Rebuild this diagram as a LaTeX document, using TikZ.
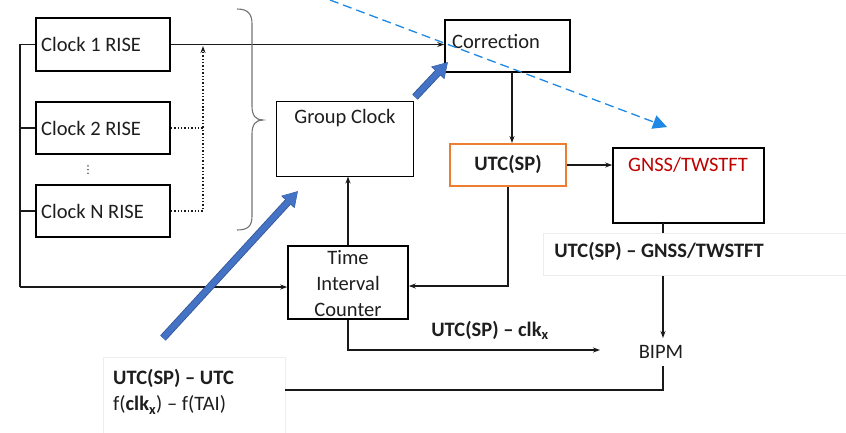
\documentclass[tikz,border=0pt]{standalone}
\usepackage{fontspec}
\setmainfont{Carlito}
\newfontfamily\dejavu{DejaVu Sans}
\usetikzlibrary{arrows.meta,calc}
\definecolor{txt}{HTML}{1E1E1E}
\definecolor{orng}{HTML}{ED7D31}
\definecolor{redt}{HTML}{C00000}
\definecolor{blk}{HTML}{4472C4}
\definecolor{blkd}{HTML}{2F528F}
\definecolor{dsh}{HTML}{1E88E5}
\tikzset{
  box/.style={draw=black, line width=1.6bp, inner sep=0pt, fill=white},
  lbl/.style={text=txt, font=\fontsize{20.5bp}{24bp}\selectfont, inner sep=0pt},
  blbl/.style={lbl, font=\fontsize{20.5bp}{24bp}\selectfont\bfseries},
  conn/.style={line width=1.4bp, draw=black!90},
  tip/.style={-{Stealth[length=7bp,width=5bp]}},
  bluearrow/.style={line width=6bp, draw=blk, -{Triangle[length=14bp,width=16bp]}},
}
\begin{document}
\begin{tikzpicture}[x=1bp,y=-1bp]
\useasboundingbox (0,0) rectangle (846,432);
% faint label boxes
\node[draw=black!7, fill=white, minimum width=182bp, minimum height=80bp, inner sep=0pt, anchor=north west] (bl) at (103,357) {};
% clocks
\node[box, minimum width=134bp, minimum height=53bp] (c1) at (103,44.5) {};
\node[box, minimum width=134bp, minimum height=52bp] (c2) at (103,128) {};
\node[box, minimum width=134bp, minimum height=52bp] (cN) at (103,211) {};
\node[lbl, anchor=west] (t1) at (41,44.5) {Clock 1 RISE};
\node[lbl, anchor=west] (t2) at (41,128) {Clock 2 RISE};
\node[lbl, anchor=west] (tN) at (41,211) {Clock N RISE};
\node[inner sep=0pt, text=txt, font=\dejavu\fontsize{11bp}{12bp}\selectfont] (vd) at (88,170) {⋮};
% other boxes
\node[box, minimum width=125bp, minimum height=52bp] (corr) at (507.5,46) {};
\node[lbl, anchor=west] (tcorr) at (452,41) {Correction};
\node[box, line width=1bp, minimum width=137bp, minimum height=75bp] (gc) at (344.5,138.5) {};
\node[lbl] (tgc) at (345,118) {Group Clock};
\node[box, draw=orng, line width=2bp, minimum width=116bp, minimum height=42bp] (utc) at (508,165) {};
\node[blbl] (tutc) at (508,164) {UTC(SP)};
\node[box, minimum width=151bp, minimum height=75bp] (gnss) at (688.5,185.5) {};
\node[lbl, text=redt] (tgnss) at (688,165) {GNSS/TWSTFT};
\node[box, minimum width=120bp, minimum height=73bp] (tic) at (348,282.5) {};
\node[lbl, align=center, font=\fontsize{20.5bp}{26bp}\selectfont] (ttic) at (348,284) {Time\\Interval\\Counter};
\node[lbl] (bipm) at (661,352) {BIPM};
% connectors
\draw[conn] (c1.west) -- (20,44.5) -- (20,287);
\draw[conn] (c2.west) -- (20,128);
\draw[conn] (cN.west) -- (20,211);
\draw[conn, tip] (20,287) -- (tic.west |- 0,287);
\draw[conn, tip] (c1.east) -- (corr.west |- c1.east);
\draw[conn, dotted, line width=1.5bp] (c2.east) -- (203,128);
\draw[conn, dotted, line width=1.5bp, tip] (cN.east) -- (203,211) -- (203,46);
\draw[conn, tip] (512,72) -- (utc.north -| 512,0);
\draw[conn, tip] (utc.east) -- (gnss.west |- utc.east);
\draw[conn, tip] (utc.south) -- (508,286) -- (tic.east |- 0,286);
\draw[conn, tip] (tic.north) -- (gc.south -| tic.north);
\draw[conn, tip] (tic.south) -- (348,350) -- (600,350);
\draw[conn, tip] (663,223) -- (663,338);
\draw[conn] (bl.east |- 0,390) -- (663,390) -- (663,366);
% labels with backgrounds
\node[draw=black!7, fill=white, minimum width=303bp, minimum height=42bp, inner sep=0pt, anchor=west] (lg) at (543,254) {};
\node[blbl] (tlg) at (659,251) {UTC(SP) -- GNSS/TWSTFT};
\node[blbl] (tck) at (490,330) {UTC(SP) -- clk\textsubscript{x}};
\node[blbl, anchor=west] (tb1) at (113,378) {UTC(SP) -- UTC};
\node[lbl, anchor=west] (tb2) at (113,405) {f(\textbf{clk\textsubscript{x}}) -- f(TAI)};
% brace
\draw[black!55, line width=1.1bp] (237,9) .. controls (248,9) and (252,14) .. (252,24) -- (252,106) .. controls (252,116) and (256,120) .. (263,120) .. controls (256,120) and (252,124) .. (252,134) -- (252,216) .. controls (252,226) and (248,230) .. (237,230);
% blue arrows
\coordinate (a1s) at (163,338);
\coordinate (a1e) at (298,191);
\coordinate (a2s) at (415,97);
\coordinate (a2e) at (448,62);
\draw[line width=7.5bp, draw=blkd, -{Triangle[length=15bp,width=17bp]}] (a1s) -- (a1e);
\draw[bluearrow] (a1s) -- ($(a1e)!0.4bp!(a1s)$);
\draw[line width=7.5bp, draw=blkd, -{Triangle[length=15bp,width=17bp]}] (a2s) -- (a2e);
\draw[bluearrow] (a2s) -- ($(a2e)!0.4bp!(a2s)$);
% dashed blue
\coordinate (ds) at (330,0);
\coordinate (de) at (667,127);
\draw[dsh, line width=1.3bp, dash pattern=on 9bp off 5bp, -{Triangle[length=14bp,width=14bp]}] (ds) -- (de);
\end{tikzpicture}
\end{document}
